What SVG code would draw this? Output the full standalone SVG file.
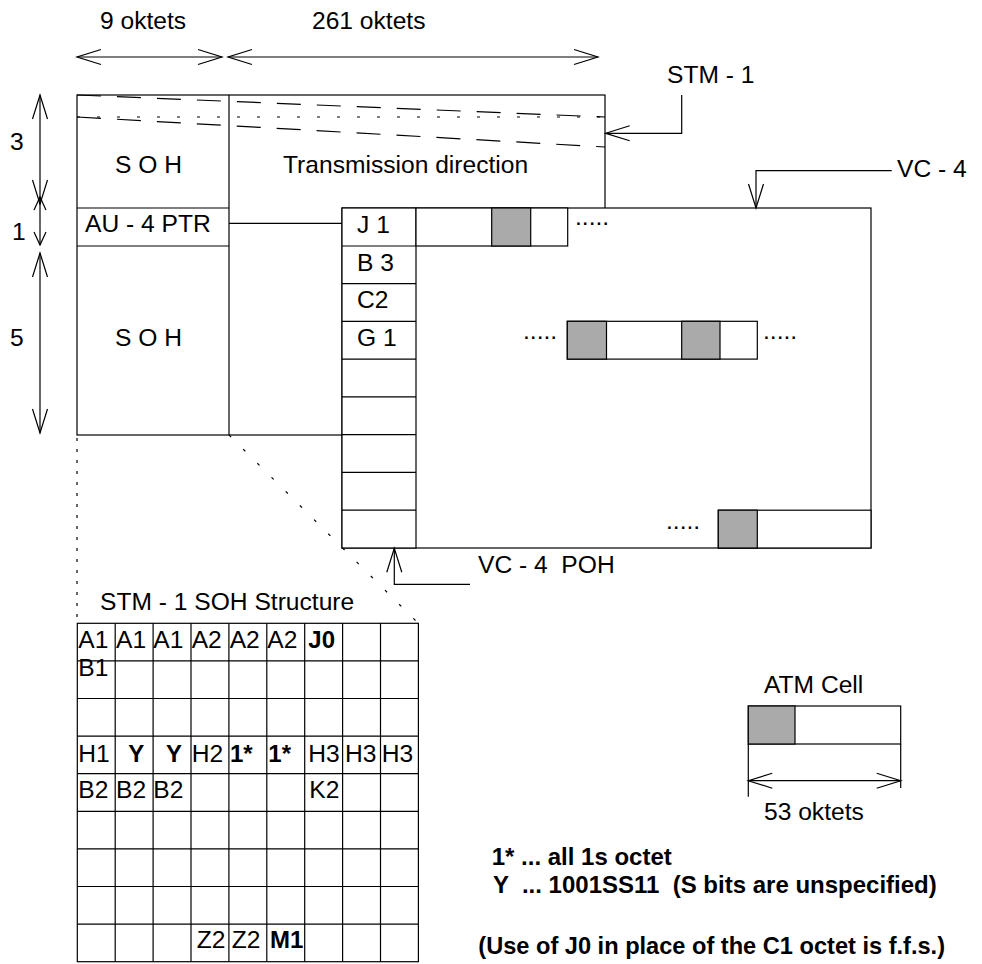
<svg xmlns="http://www.w3.org/2000/svg" width="982" height="964" viewBox="0 0 982 964">
<style>
text{font-family:"Liberation Sans",Arial,sans-serif;font-size:24.6px;fill:#000;white-space:pre}
.b{font-weight:bold;font-size:24px}
.ln{stroke:#000;stroke-width:1.2;fill:none}
.box{stroke:#000;stroke-width:1.2;fill:#fff}
.gray{stroke:#000;stroke-width:1.2;fill:#aaa}
.dash{stroke:#000;stroke-width:1.2;fill:none;stroke-dasharray:24 16}
.dot{stroke:#000;stroke-width:1.2;fill:none;stroke-dasharray:3 17}
.vdot{stroke:#000;stroke-width:1.2;fill:none;stroke-dasharray:3 8}
</style>
<defs>
<marker id="ah" viewBox="-26 -9 28 18" markerWidth="28" markerHeight="18" refX="0" refY="0" orient="auto-start-reverse" markerUnits="userSpaceOnUse">
<path d="M-24,-7.5 L0,0 L-24,7.5" fill="none" stroke="#000" stroke-width="1.2"/>
</marker>
<marker id="ahs" viewBox="-16 -8 18 16" markerWidth="18" markerHeight="16" refX="0" refY="0" orient="auto-start-reverse" markerUnits="userSpaceOnUse">
<path d="M-13,-6 L0,0 L-13,6" fill="none" stroke="#000" stroke-width="1.2"/>
</marker>
</defs>

<g id="stm1-frame">
<rect class="box" x="77" y="95" width="528" height="340"/>
<line class="ln" x1="229" y1="95" x2="229" y2="435"/>
<line class="ln" x1="77" y1="208" x2="229" y2="208"/>
<line class="ln" x1="77" y1="246" x2="229" y2="246"/>
<line class="dash" x1="77" y1="95" x2="605" y2="117"/>
<line class="dot" x1="77" y1="117" x2="605" y2="117"/>
<line class="dash" x1="77" y1="117" x2="605" y2="147"/>
<text x="115" y="173">S O H</text>
<text x="85" y="232">AU - 4 PTR</text>
<text x="115" y="346">S O H</text>
<text x="283" y="173">Transmission direction</text>
</g>

<g id="vc4">
<rect class="box" x="342" y="208" width="529" height="340"/>
<rect class="box" x="342" y="208" width="74" height="340"/>
<line class="ln" x1="342" y1="246" x2="416" y2="246"/>
<line class="ln" x1="342" y1="283.6" x2="416" y2="283.6"/>
<line class="ln" x1="342" y1="321.3" x2="416" y2="321.3"/>
<line class="ln" x1="342" y1="359.1" x2="416" y2="359.1"/>
<line class="ln" x1="342" y1="396.9" x2="416" y2="396.9"/>
<line class="ln" x1="342" y1="434.7" x2="416" y2="434.7"/>
<line class="ln" x1="342" y1="472.4" x2="416" y2="472.4"/>
<line class="ln" x1="342" y1="510.2" x2="416" y2="510.2"/>
<text x="357" y="233">J 1</text>
<text x="357" y="271">B 3</text>
<text x="357" y="308">C2</text>
<text x="357" y="346">G 1</text>
<rect class="box" x="416" y="208" width="151.7" height="38"/>
<rect class="gray" x="491.7" y="208" width="39" height="38"/>
<text x="575" y="225">.....</text>
<rect class="box" x="567.3" y="321.3" width="190" height="37.8"/>
<rect class="gray" x="567.3" y="321.3" width="39.2" height="37.8"/>
<rect class="gray" x="681.7" y="321.3" width="38.3" height="37.8"/>
<text x="523" y="338.5">.....</text>
<text x="763" y="338.5">.....</text>
<rect class="box" x="718.3" y="510.2" width="152.7" height="37.8"/>
<rect class="gray" x="718.3" y="510.2" width="39" height="37.8"/>
<text x="666" y="528.5">.....</text>
</g>

<g id="connectors">
<line class="ln" x1="77" y1="57" x2="222" y2="57" marker-start="url(#ah)" marker-end="url(#ah)"/>
<line class="ln" x1="228" y1="57" x2="598" y2="57" marker-start="url(#ah)" marker-end="url(#ah)"/>
<line class="ln" x1="40" y1="95" x2="40" y2="204" marker-start="url(#ah)" marker-end="url(#ah)"/>
<line class="ln" x1="40" y1="197" x2="40" y2="245" marker-start="url(#ahs)" marker-end="url(#ahs)"/>
<line class="ln" x1="40" y1="253" x2="40" y2="433" marker-start="url(#ah)" marker-end="url(#ah)"/>
<polyline class="ln" points="681.7,95 681.7,133.3 605.7,133.3" marker-end="url(#ah)"/>
<polyline class="ln" points="891.7,170.7 756,170.7 756,208" marker-end="url(#ah)"/>
<polyline class="ln" points="470,584.3 394.3,584.3 394.3,548.3" marker-end="url(#ah)"/>
<line class="ln" x1="229" y1="223.3" x2="342" y2="223.3"/>
<line class="vdot" x1="77" y1="438" x2="77" y2="623"/>
<line class="dot" x1="229" y1="435" x2="418" y2="623"/>
<line class="ln" x1="748.3" y1="744" x2="748.3" y2="796.7"/>
<line class="ln" x1="900.7" y1="744" x2="900.7" y2="788"/>
<line class="ln" x1="748.3" y1="780.7" x2="900.7" y2="780.7" marker-start="url(#ah)" marker-end="url(#ah)"/>
</g>

<g id="labels">
<text x="100" y="29">9 oktets</text>
<text x="312" y="29">261 oktets</text>
<text x="667" y="83">STM - 1</text>
<text x="897" y="177">VC - 4</text>
<text x="10" y="150">3</text>
<text x="12" y="240">1</text>
<text x="10" y="346">5</text>
<text x="478" y="573">VC - 4  POH</text>
</g>

<g id="soh-structure">
<text x="100" y="610">STM - 1 SOH Structure</text>
<rect class="box" x="77.3" y="623.3" width="341.1" height="338.4"/>
<g class="ln">
<line x1="115.2" y1="623.3" x2="115.2" y2="961.7"/>
<line x1="153.1" y1="623.3" x2="153.1" y2="961.7"/>
<line x1="191" y1="623.3" x2="191" y2="961.7"/>
<line x1="228.9" y1="623.3" x2="228.9" y2="961.7"/>
<line x1="266.8" y1="623.3" x2="266.8" y2="961.7"/>
<line x1="304.7" y1="623.3" x2="304.7" y2="961.7"/>
<line x1="342.6" y1="623.3" x2="342.6" y2="961.7"/>
<line x1="380.5" y1="623.3" x2="380.5" y2="961.7"/>
<line x1="77.3" y1="660.9" x2="418.4" y2="660.9"/>
<line x1="77.3" y1="698.5" x2="418.4" y2="698.5"/>
<line x1="77.3" y1="736.1" x2="418.4" y2="736.1"/>
<line x1="77.3" y1="773.7" x2="418.4" y2="773.7"/>
<line x1="77.3" y1="811.3" x2="418.4" y2="811.3"/>
<line x1="77.3" y1="848.9" x2="418.4" y2="848.9"/>
<line x1="77.3" y1="886.5" x2="418.4" y2="886.5"/>
<line x1="77.3" y1="924.1" x2="418.4" y2="924.1"/>
</g>
<text x="78.3" y="648.3">A1</text>
<text x="116" y="648.3">A1</text>
<text x="153.3" y="648.3">A1</text>
<text x="191.7" y="648.3">A2</text>
<text x="229.7" y="648.3">A2</text>
<text x="267.3" y="648.3">A2</text>
<text class="b" x="308.3" y="648.3">J0</text>
<text x="78.3" y="676">B1</text>
<text x="78.3" y="761.7">H1</text>
<text class="b" x="128.3" y="761.7">Y</text>
<text class="b" x="166" y="761.7">Y</text>
<text x="191.7" y="761.7">H2</text>
<text class="b" x="230" y="761.7">1*</text>
<text class="b" x="268.3" y="761.7">1*</text>
<text x="308.3" y="761.7">H3</text>
<text x="345" y="761.7">H3</text>
<text x="381.7" y="761.7">H3</text>
<text x="78.3" y="798.3">B2</text>
<text x="116" y="798.3">B2</text>
<text x="153.3" y="798.3">B2</text>
<text x="309.3" y="798.3">K2</text>
<text x="196.7" y="948.3">Z2</text>
<text x="231.7" y="948.3">Z2</text>
<text class="b" x="270" y="948.3">M1</text>
</g>

<g id="atm-cell">
<text x="764" y="692.7">ATM Cell</text>
<rect class="box" x="748.3" y="706" width="152.4" height="38"/>
<rect class="gray" x="748.3" y="706" width="46.7" height="38"/>
<text x="764" y="820">53 oktets</text>
</g>

<g id="legend">
<text class="b" x="491.7" y="865">1* ... all 1s octet</text>
<text class="b" x="493" y="893.3">Y  ... 1001SS11  (S bits are unspecified)</text>
<text class="b" x="478.3" y="954.3" style="font-size:23.6px">(Use of J0 in place of the C1 octet is f.f.s.)</text>
</g>
</svg>
